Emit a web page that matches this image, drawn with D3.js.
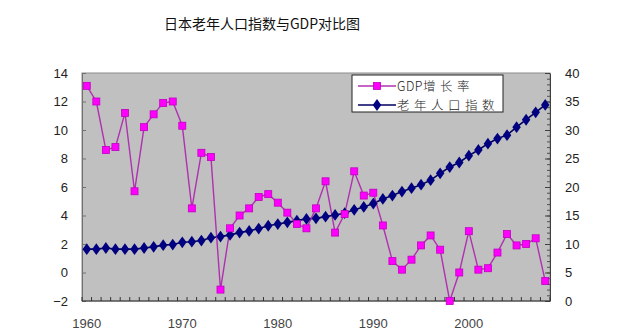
<!DOCTYPE html>
<html>
<head>
<meta charset="utf-8">
<script src="https://cdn.jsdelivr.net/npm/d3@7"></script>
<style>
  html, body { margin: 0; padding: 0; background: #fff; }
  svg { display: block; }
  text { font-family: "Liberation Sans", Arial, sans-serif; }
</style>
</head>
<body>
<svg id="chart" width="640" height="334"></svg>
<script>
// Years 1960–2008
const years = d3.range(1960, 2009);

// Japan real GDP growth rate (%), left axis
const gdpGrowth = [
  13.1, 12.0, 8.6, 8.8, 11.2, 5.7, 10.2, 11.1, 11.9, 12.0,
  10.3, 4.5, 8.4, 8.1, -1.2, 3.1, 4.0, 4.5, 5.3, 5.5,
  4.9, 4.2, 3.4, 3.1, 4.5, 6.4, 2.8, 4.1, 7.1, 5.4,
  5.6, 3.3, 0.8, 0.2, 0.9, 1.9, 2.6, 1.6, -2.0, 0.0,
  2.9, 0.2, 0.3, 1.4, 2.7, 1.9, 2.0, 2.4, -0.6
];

// Elderly population index, right axis
const agedIndex = [
  9.1, 9.1, 9.3, 9.1, 9.1, 9.1, 9.3, 9.5, 9.8, 9.9,
  10.3, 10.4, 10.6, 11.1, 11.3, 11.6, 12.0, 12.3, 12.7, 13.2,
  13.5, 13.8, 14.1, 14.4, 14.5, 14.8, 15.1, 15.4, 16.0, 16.5,
  17.1, 17.9, 18.5, 19.2, 19.8, 20.4, 21.2, 22.4, 23.5, 24.3,
  25.5, 26.5, 27.6, 28.5, 29.1, 30.5, 31.8, 33.1, 34.4
];

const leftTicks = [-2, 0, 2, 4, 6, 8, 10, 12, 14];
const rightTicks = [0, 5, 10, 15, 20, 25, 30, 35, 40];
const yearTicks = [1960, 1970, 1980, 1990, 2000];

const titleText = "日本老年人口指数与GDP对比图";
const seriesNames = ["GDP增长率", "老年人口指数"];

const svg = d3.select("#chart");
const plot = { left: 82, right: 550, top: 73, bottom: 301 };

const x = d3.scaleBand().domain(years).range([plot.left, plot.right]);
const xc = d => x(d) + x.bandwidth() / 2;
const yL = d3.scaleLinear().domain([-2, 14]).range([plot.bottom, plot.top]);
const yR = d3.scaleLinear().domain([0, 40]).range([plot.bottom, plot.top]);

// Title
svg.append("text")
  .attr("x", 262).attr("y", 29)
  .attr("text-anchor", "middle")
  .attr("font-size", 14)
  .attr("fill", "#111")
  .style("font-family", "'Noto Sans CJK SC', sans-serif")
  .text(titleText);

// Plot area
svg.append("rect")
  .attr("x", plot.left).attr("y", plot.top)
  .attr("width", plot.right - plot.left).attr("height", plot.bottom - plot.top)
  .attr("fill", "#c0c0c0")
  .attr("stroke", "#8c8c8c").attr("stroke-width", 1);

// Left axis (ticks pointing into the plot)
const axL = svg.append("g")
  .attr("transform", `translate(${plot.left},0)`)
  .call(d3.axisLeft(yL).tickValues(leftTicks).tickSizeInner(-4).tickSizeOuter(0).tickPadding(14));
axL.select(".domain").attr("stroke", "#707070");
axL.selectAll(".tick line").attr("stroke", "#707070");
axL.selectAll("text").attr("font-size", 13).attr("fill", "#222")
  .attr("font-family", "'Liberation Sans', Arial, sans-serif");

// Right axis with minor ticks
const axRMinor = svg.append("g")
  .attr("transform", `translate(${plot.right},0)`)
  .call(d3.axisRight(yR).ticks(40).tickSizeInner(-3).tickSizeOuter(0).tickFormat(""));
axRMinor.select(".domain").remove();
axRMinor.selectAll(".tick line").attr("stroke", "#505050");
const axR = svg.append("g")
  .attr("transform", `translate(${plot.right},0)`)
  .call(d3.axisRight(yR).tickValues(rightTicks).tickSizeInner(-5).tickSizeOuter(0).tickPadding(15));
axR.select(".domain").attr("stroke", "#404040");
axR.selectAll(".tick line").attr("stroke", "#404040");
axR.selectAll("text").attr("font-size", 13).attr("fill", "#222")
  .attr("font-family", "'Liberation Sans', Arial, sans-serif");

// Bottom axis: tick at each category boundary, labels every decade
const xb = svg.append("g").attr("transform", `translate(0,${plot.bottom})`);
xb.append("line")
  .attr("x1", plot.left).attr("x2", plot.right)
  .attr("stroke", "#333");
xb.selectAll("line.tk")
  .data(years.concat([2009]))
  .join("line").attr("class", "tk")
  .attr("x1", d => d === 2009 ? plot.right : x(d))
  .attr("x2", d => d === 2009 ? plot.right : x(d))
  .attr("y1", 0).attr("y2", -4)
  .attr("stroke", "#333");
xb.selectAll("text")
  .data(yearTicks)
  .join("text")
  .attr("x", d => xc(d)).attr("y", 27)
  .attr("text-anchor", "middle")
  .attr("font-size", 13).attr("fill", "#444")
  .text(d => d);

// Series drawing
const gdpLine = d3.line().x((d, i) => xc(years[i])).y(d => yL(d));
const agedLine = d3.line().x((d, i) => xc(years[i])).y(d => yR(d));

svg.append("path").datum(agedIndex)
  .attr("d", agedLine).attr("fill", "none")
  .attr("stroke", "#000060").attr("stroke-width", 1.6);

svg.append("path").datum(gdpGrowth)
  .attr("d", gdpLine).attr("fill", "none")
  .attr("stroke", "#b030b0").attr("stroke-width", 1.4);

const diamond = d3.symbol().type(d3.symbolDiamond).size(40);
svg.append("g").selectAll("path")
  .data(agedIndex).join("path")
  .attr("d", diamond)
  .attr("transform", (d, i) => `translate(${xc(years[i])},${yR(d)}) scale(1.25,1)`)
  .attr("fill", "#000080");

svg.append("g").selectAll("rect")
  .data(gdpGrowth).join("rect")
  .attr("x", (d, i) => xc(years[i]) - 3.5)
  .attr("y", d => yL(d) - 3.5)
  .attr("width", 7).attr("height", 7)
  .attr("fill", "#ff00ff")
  .attr("stroke", "#c000c0").attr("stroke-width", 0.8);

// Legend
const lg = svg.append("g").attr("transform", "translate(352,75)");
lg.append("rect")
  .attr("width", 151).attr("height", 37)
  .attr("fill", "#fff").attr("stroke", "#222").attr("stroke-width", 1);
const rowY = [11, 30];
// GDP row
lg.append("line").attr("x1", 6).attr("x2", 44).attr("y1", rowY[0]).attr("y2", rowY[0])
  .attr("stroke", "#b030b0").attr("stroke-width", 1.4);
lg.append("rect").attr("x", 21.5).attr("y", rowY[0] - 3.5).attr("width", 7).attr("height", 7)
  .attr("fill", "#ff00ff").attr("stroke", "#c000c0").attr("stroke-width", 0.8);
// Elderly index row
lg.append("line").attr("x1", 6).attr("x2", 44).attr("y1", rowY[1]).attr("y2", rowY[1])
  .attr("stroke", "#000060").attr("stroke-width", 1.6);
lg.append("path").attr("d", diamond)
  .attr("transform", `translate(25,${rowY[1]}) scale(1.25,1)`)
  .attr("fill", "#000080");

// Labels: Latin runs set tight, CJK runs spaced wider
const runs = s => s.match(/[\x00-\x7F]+|[^\x00-\x7F]+/g);
lg.selectAll("text.lbl")
  .data(seriesNames).join("text").attr("class", "lbl")
  .attr("x", 45).attr("y", (d, i) => rowY[i] + 4.5)
  .attr("font-size", 12.5).attr("fill", "#222")
  .style("font-family", "'Noto Sans CJK SC', sans-serif")
  .style("font-weight", 300)
  .selectAll("tspan")
  .data(d => runs(d)).join("tspan")
  .attr("letter-spacing", r => /^[\x00-\x7F]+$/.test(r) ? 0.5 : 4.5)
  .text(r => r);
</script>
</body>
</html>
